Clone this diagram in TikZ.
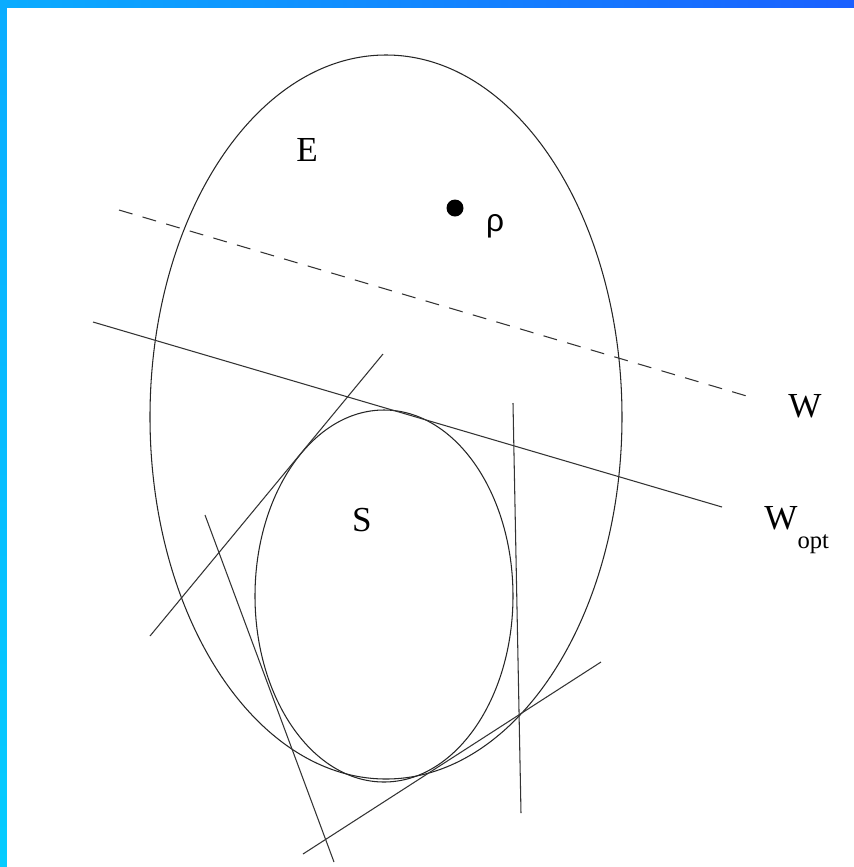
\documentclass[tikz,border=0pt]{standalone}
\usepackage{fontspec}
\setmainfont{Liberation Serif}
\newfontfamily\rhofont{Liberation Sans}
\usepackage{tikz}
\definecolor{frameA}{RGB}{10, 172, 255}
\definecolor{frameB}{RGB}{26, 96, 255}
\definecolor{frameC}{RGB}{4, 204, 255}

\begin{document}
\begin{tikzpicture}[
  x=0.02cm, y=-0.02cm,
  curve/.style={line width=0.6pt, black!85},
  tangent/.style={line width=0.6pt, black!80},
  lbl/.style={font=\fontsize{20}{23}\selectfont, inner sep=0pt}
]
% frame and page
\useasboundingbox (0,0) rectangle (854,867);
\fill[white] (0,0) rectangle (854,867);
\shade[left color=frameA, right color=frameB] (0,0) rectangle (854,7);
\shade[top color=frameA, bottom color=frameC] (0,0) rectangle (7,867);

% the two ellipses
\draw[curve] (386,417) ellipse [x radius=236, y radius=362];
\draw[curve] (384,596) ellipse [x radius=129, y radius=186];

% end points of the lines
\coordinate (w1) at (119,210);
\coordinate (w2) at (750,397);
\coordinate (o1) at (93,322);
\coordinate (o2) at (722,507);
\coordinate (a1) at (150,636);
\coordinate (a2) at (383,354);
\coordinate (b1) at (205,515);
\coordinate (b2) at (334,862);
\coordinate (c1) at (303,854);
\coordinate (c2) at (601,662);
\coordinate (d1) at (513,403);
\coordinate (d2) at (521,813);

\draw[tangent, dashed, dash pattern=on 8pt off 6pt] (w1) -- (w2);
\draw[tangent] (o1) -- (o2);
\draw[tangent] (a1) -- (a2);
\draw[tangent] (b1) -- (b2);
\draw[tangent] (c1) -- (c2);
\draw[tangent] (d1) -- (d2);

% point and labels
\fill (455,208) circle [radius=8.5] coordinate (rhopt);
\node[lbl, font=\fontsize{18}{21}\selectfont\rhofont] (rho) at (495,226) {ρ};
\node[lbl] (E) at (307,150) {E};
\node[lbl] (S) at (362,520) {S};
\node[lbl] (W) at (805,406) {W};
\node[lbl, anchor=base west] (Wopt) at (764,529) {W\raisebox{-1.2ex}{\fontsize{14}{16}\selectfont opt}};
\end{tikzpicture}
\end{document}
